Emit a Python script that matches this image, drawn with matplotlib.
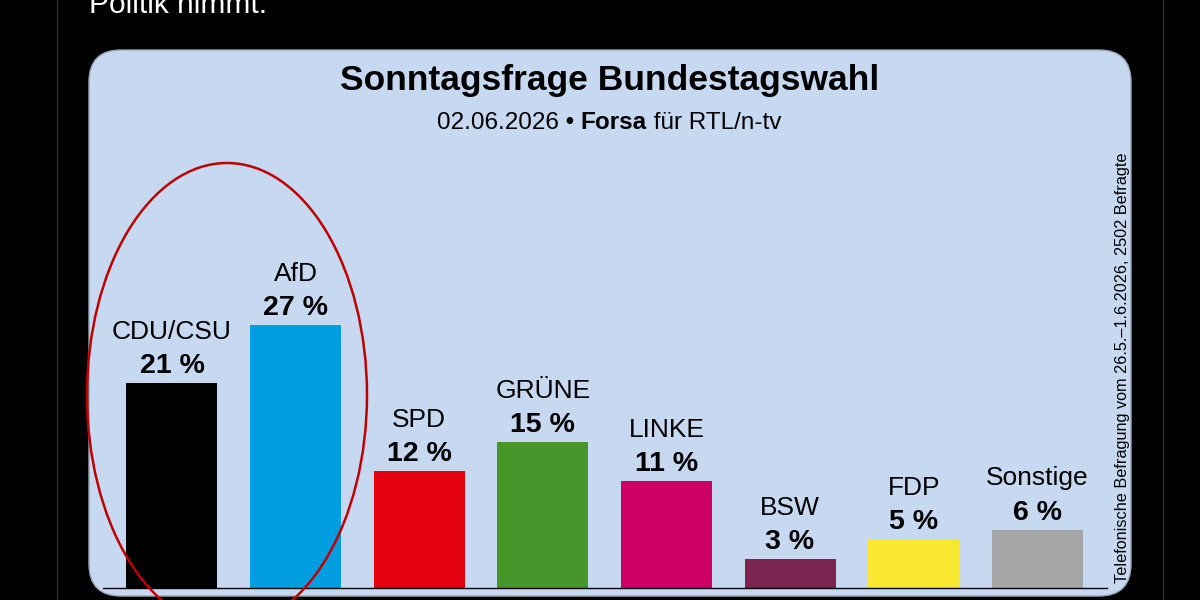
import matplotlib
matplotlib.use('Agg')
import matplotlib.pyplot as plt
from matplotlib.patches import FancyBboxPatch, Ellipse

plt.rcParams['font.family'] = ['Liberation Sans', 'DejaVu Sans']

parties = ['CDU/CSU', 'AfD', 'SPD', 'GRÜNE', 'LINKE', 'BSW', 'FDP', 'Sonstige']
values = [21, 27, 12, 15, 11, 3, 5, 6]
colors = ['#000000', '#009ee0', '#e3000f', '#46962b', '#cc0066', '#7a2450', '#f9e82f', '#a6a6a6']

title = 'Sonntagsfrage Bundestagswahl'
sub_date = '02.06.2026 • '
sub_inst = 'Forsa'
sub_client = ' für RTL/n-tv'
side_note = 'Telefonische Befragung vom 26.5.–1.6.2026, 2502 Befragte'
tweet_text = 'Politik nimmt.'

W, H = 1200, 600
fig = plt.figure(figsize=(12, 6), dpi=100, facecolor='black')

# background layer in pixel coords (y down)
bg = fig.add_axes([0, 0, 1, 1])
bg.set_xlim(0, W)
bg.set_ylim(H, 0)
bg.axis('off')
bg.set_facecolor('black')

bg.plot([57, 57], [0, H], color='#2f3336', lw=1)
bg.plot([1163, 1163], [0, H], color='#2f3336', lw=1)

panel = FancyBboxPatch((89, 50), 1131 - 89, 596 - 50,
                       boxstyle='round,pad=0,rounding_size=32',
                       facecolor='#c6d9f0', edgecolor='#9aa8b8', lw=1)
bg.add_patch(panel)

# tail of the tweet text above, cut off at the top like in the screenshot
bg.text(89, 13, tweet_text, color='white', fontsize=21.5, va='baseline', ha='left')

bg.text(610, 90, title, fontsize=25.5, fontweight='bold', ha='center', va='baseline')

# subtitle with bold institute name
fig.canvas.draw()
r = fig.canvas.get_renderer()
parts = [(sub_date, 'normal'), (sub_inst, 'bold'), (sub_client, 'normal')]
texts = []
for s, w in parts:
    t = bg.text(0, 129, s, fontsize=17.5, fontweight=w, ha='left', va='baseline')
    texts.append(t)
widths = [t.get_window_extent(r).width for t in texts]
x0 = 609 - sum(widths) / 2
for t, w in zip(texts, widths):
    t.set_x(x0)
    x0 += w

bg.text(1122, 368, side_note, rotation=90, fontsize=11.7, ha='center', va='center')

# bars
ax = fig.add_axes([103 / W, 12 / H, (1107 - 103) / W, 438 / H])
ax.set_facecolor('none')
x = list(range(len(parties)))
ax.bar(x, values, width=0.736, color=colors, zorder=2)
ax.set_xlim(-0.558, 7.564)
ax.set_ylim(0, 438 / 9.75)
for s in ['top', 'right', 'left']:
    ax.spines[s].set_visible(False)
ax.spines['bottom'].set_color('black')
ax.spines['bottom'].set_linewidth(1)
ax.set_xticks([])
ax.set_yticks([])

for xi, v, p in zip(x, values, parties):
    ax.annotate(f'{v} %', (xi, v), xytext=(0, 10), textcoords='offset pixels',
                ha='center', va='baseline', fontsize=20.5, fontweight='bold')
    ax.annotate(p, (xi, v), xytext=(0, 44), textcoords='offset pixels',
                ha='center', va='baseline', fontsize=19)

# red ellipse around the two largest
ov = fig.add_axes([0, 0, 1, 1])
ov.set_xlim(0, W)
ov.set_ylim(H, 0)
ov.axis('off')
ov.set_facecolor('none')
ov.add_patch(Ellipse((227, 395), 280, 464, facecolor='none', edgecolor='#c00000', lw=1.8))

fig.savefig('out.png', dpi=100, facecolor='black')
